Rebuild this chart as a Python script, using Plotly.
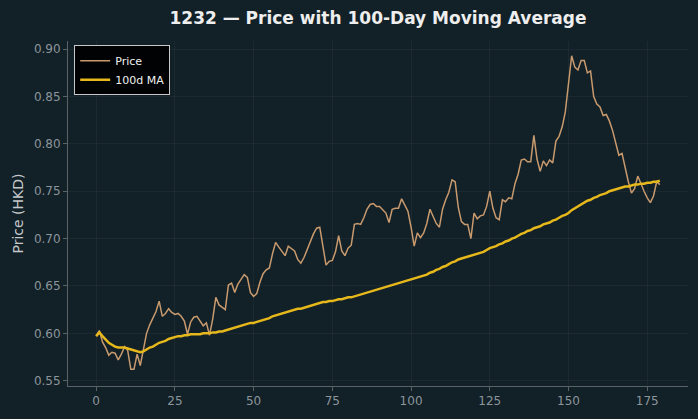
import plotly.graph_objects as go

days = list(range(180))

price = [
    0.597, 0.603, 0.591, 0.585, 0.577, 0.580, 0.579, 0.572, 0.578, 0.586,
    0.582, 0.562, 0.562, 0.578, 0.566, 0.585, 0.600, 0.609, 0.616, 0.623,
    0.634, 0.618, 0.621, 0.626, 0.622, 0.620, 0.621, 0.618, 0.613, 0.599,
    0.612, 0.617, 0.618, 0.613, 0.608, 0.611, 0.598, 0.615, 0.638, 0.630,
    0.627, 0.625, 0.651, 0.653, 0.643, 0.652, 0.657, 0.662, 0.659, 0.643,
    0.639, 0.642, 0.654, 0.663, 0.667, 0.669, 0.684, 0.696, 0.691, 0.686,
    0.682, 0.692, 0.689, 0.687, 0.678, 0.674, 0.680, 0.689, 0.697, 0.705,
    0.711, 0.712, 0.692, 0.672, 0.676, 0.677, 0.686, 0.703, 0.687, 0.682,
    0.690, 0.693, 0.715, 0.716, 0.715, 0.722, 0.731, 0.736, 0.737, 0.734,
    0.734, 0.731, 0.727, 0.717, 0.731, 0.732, 0.732, 0.742, 0.736, 0.729,
    0.712, 0.692, 0.706, 0.701, 0.706, 0.716, 0.731, 0.723, 0.716, 0.712,
    0.731, 0.741, 0.749, 0.762, 0.760, 0.733, 0.718, 0.715, 0.715, 0.700,
    0.727, 0.721, 0.724, 0.725, 0.734, 0.750, 0.732, 0.722, 0.720, 0.741,
    0.739, 0.743, 0.742, 0.758, 0.768, 0.783, 0.784, 0.781, 0.781, 0.809,
    0.784, 0.771, 0.782, 0.777, 0.783, 0.780, 0.803, 0.808, 0.818, 0.834,
    0.866, 0.893, 0.881, 0.878, 0.888, 0.888, 0.875, 0.877, 0.850, 0.842,
    0.839, 0.830, 0.831, 0.824, 0.814, 0.800, 0.788, 0.790, 0.773, 0.760,
    0.748, 0.753, 0.766, 0.757, 0.750, 0.743, 0.738, 0.745, 0.760, 0.757,
]

ma100 = [
    0.597, 0.601, 0.597, 0.593, 0.590, 0.588, 0.586, 0.585, 0.585, 0.585,
    0.584, 0.583, 0.582, 0.581, 0.580, 0.581, 0.583, 0.585, 0.586, 0.588,
    0.590, 0.591, 0.592, 0.594, 0.595, 0.596, 0.597, 0.597, 0.598, 0.598,
    0.599, 0.599, 0.599, 0.599, 0.600, 0.600, 0.600, 0.601, 0.601, 0.602,
    0.602, 0.603, 0.604, 0.605, 0.606, 0.607, 0.608, 0.609, 0.610, 0.611,
    0.611, 0.612, 0.613, 0.614, 0.615, 0.616, 0.618, 0.619, 0.620, 0.621,
    0.622, 0.623, 0.624, 0.625, 0.626, 0.626, 0.627, 0.628, 0.629, 0.630,
    0.631, 0.632, 0.633, 0.633, 0.634, 0.634, 0.635, 0.636, 0.636, 0.637,
    0.638, 0.638, 0.639, 0.640, 0.641, 0.642, 0.643, 0.644, 0.645, 0.646,
    0.647, 0.648, 0.649, 0.650, 0.651, 0.652, 0.653, 0.654, 0.655, 0.656,
    0.657, 0.658, 0.659, 0.660, 0.661, 0.662, 0.664, 0.665, 0.667, 0.668,
    0.670, 0.671, 0.673, 0.675, 0.676, 0.678, 0.679, 0.680, 0.681, 0.682,
    0.683, 0.684, 0.685, 0.686, 0.688, 0.690, 0.691, 0.692, 0.694, 0.695,
    0.697, 0.698, 0.700, 0.701, 0.703, 0.705, 0.706, 0.708, 0.709, 0.711,
    0.712, 0.713, 0.715, 0.716, 0.717, 0.719, 0.720, 0.722, 0.724, 0.725,
    0.727, 0.730, 0.732, 0.734, 0.736, 0.738, 0.740, 0.741, 0.743, 0.744,
    0.746, 0.747, 0.748, 0.750, 0.751, 0.752, 0.753, 0.754, 0.755, 0.755,
    0.756, 0.757, 0.757, 0.758, 0.758, 0.759, 0.759, 0.760, 0.760, 0.761,
]

x_ticks = [0, 25, 50, 75, 100, 125, 150, 175]
y_ticks = [0.55, 0.60, 0.65, 0.70, 0.75, 0.80, 0.85, 0.90]

BG = "#122027"
FONT = "DejaVu Sans"

fig = go.Figure()
fig.add_trace(go.Scatter(x=days, y=price, mode="lines", name="Price",
                         line=dict(color="#c89a6e", width=1.5)))
fig.add_trace(go.Scatter(x=days, y=ma100, mode="lines", name="100d MA",
                         line=dict(color="#e6b81c", width=2.5)))

axis_common = dict(
    showgrid=True, gridcolor="rgba(255,255,255,0.045)", gridwidth=1,
    zeroline=False, showline=True, linecolor="#5a6266", linewidth=1,
    ticks="outside", ticklen=4, tickcolor="#5a6266",
    tickfont=dict(family=FONT, size=12, color="#8c959b"),
)

fig.update_layout(
    width=698, height=419,
    paper_bgcolor=BG, plot_bgcolor=BG,
    margin=dict(l=68, r=10, t=41, b=33),
    font=dict(family=FONT, color="#8c959b"),
    title=dict(text="<b>1232 — Price with 100-Day Moving Average</b>",
               x=0.5, xref="paper", xanchor="center",
               y=1 - 18 / 419, yref="container", yanchor="middle",
               font=dict(family=FONT, size=17, color="#eeeeee")),
    xaxis=dict(range=[-8.95, 187.95], tickvals=x_ticks, **axis_common),
    yaxis=dict(range=[0.5444, 0.9086], tickvals=y_ticks, tickformat=".2f",
               title=dict(text="Price (HKD)", standoff=6,
                          font=dict(family=FONT, size=14, color="#c4c8cb")),
               **axis_common),
    legend=dict(x=0.01, y=0.988, xanchor="left", yanchor="top",
                bgcolor="rgba(0,0,0,0.92)", bordercolor="#c8c8c8", borderwidth=1,
                font=dict(family=FONT, size=11, color="#f0f0f0"),
                tracegroupgap=0, itemwidth=30),
    showlegend=True,
)

fig.write_html("out.html")
